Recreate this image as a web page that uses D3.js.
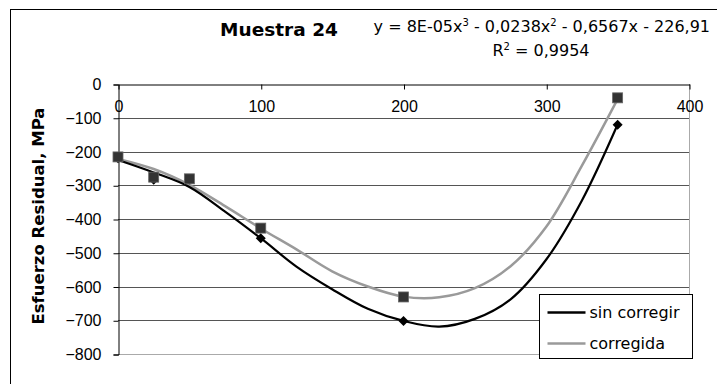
<!DOCTYPE html>
<html>
<head>
<meta charset="utf-8">
<script src="https://cdn.jsdelivr.net/npm/d3@7"></script>
<style>
    body { margin: 0; background: #ffffff; }
    svg { display: block; font-family: "DejaVu Sans", Arial, sans-serif; }
</style>
</head>
<body>
<div id="chart"></div>
<script>
// Measured points (x = position, y = residual stress in MPa)
var pointX = [0, 25, 50, 100, 200, 350];
var sinCorregirPts = [-220, -284, -283, -457, -702, -121];
var corregidaPts = [-216, -276, -281, -427, -631, -41];

// Trend curves
var curveX = [0, 25, 50, 75, 100, 125, 150, 175, 200, 225, 250, 275, 300, 325, 350];
var sinCorregirCurve = [-225, -262, -305, -378, -457, -541, -608, -666, -702, -719, -696, -638, -520, -345, -120];
var corregidaCurve = [-222, -252, -299, -362, -428, -490, -555, -600, -630, -632, -605, -540, -423, -242, -45];

var xTicks = [0, 100, 200, 300, 400];
var yTicks = [0, -100, -200, -300, -400, -500, -600, -700, -800];

var width = 717;
var height = 384;

var svg = d3.select('#chart')
    .append('svg')
    .attr('width', width)
    .attr('height', height);

// Outer frame
svg.append('rect')
    .attr('x', 10.5)
    .attr('y', 9.5)
    .attr('width', 720)
    .attr('height', 400)
    .attr('fill', 'none')
    .attr('stroke', '#000');

var x = d3.scaleLinear().domain([0, 400]).range([118, 689]);
var y = d3.scaleLinear().domain([-800, 0]).range([354, 84]);

// Gridlines
svg.append('g')
    .selectAll('line')
    .data(yTicks.filter(d => d !== 0 && d !== -800))
    .enter()
    .append('line')
    .attr('x1', x(0))
    .attr('x2', x(400))
    .attr('y1', d => Math.round(y(d)) + 0.5)
    .attr('y2', d => Math.round(y(d)) + 0.5)
    .attr('stroke', '#555');

// Right and bottom frame of plot
svg.append('line')
    .attr('x1', x(400) + 0.5).attr('x2', x(400) + 0.5)
    .attr('y1', y(0)).attr('y2', y(-800))
    .attr('stroke', '#aaa');
svg.append('line')
    .attr('x1', x(0)).attr('x2', x(400))
    .attr('y1', y(-800) + 0.5).attr('y2', y(-800) + 0.5)
    .attr('stroke', '#aaa');

// Y axis
var yAxis = d3.axisLeft(y).tickValues(yTicks).tickSize(5).tickPadding(12);
var yG = svg.append('g')
    .attr('transform', 'translate(' + (x(0) + 0.5) + ',0.5)')
    .call(yAxis);
yG.select('.domain').attr('stroke', '#000');
yG.selectAll('text')
    .style('font-size', '16px')
    .attr('fill', '#000');

// X axis along the top (value 0)
var xAxis = d3.axisBottom(x).tickValues(xTicks).tickSizeInner(5).tickSizeOuter(0).tickPadding(11);
var xG = svg.append('g')
    .attr('transform', 'translate(0.5,' + (y(0) + 0.5) + ')')
    .call(xAxis);
xG.select('.domain').attr('stroke', '#000');
xG.selectAll('text')
    .style('font-size', '16px')
    .attr('fill', '#000');

// Trend curves
var line = d3.line()
    .x(d => x(d[0]))
    .y(d => y(d[1]))
    .curve(d3.curveCatmullRom);

svg.append('path')
    .datum(curveX.map((d, i) => [d, corregidaCurve[i]]))
    .attr('d', line)
    .attr('fill', 'none')
    .attr('stroke', '#9a9a9a')
    .attr('stroke-width', 2.5);

svg.append('path')
    .datum(curveX.map((d, i) => [d, sinCorregirCurve[i]]))
    .attr('d', line)
    .attr('fill', 'none')
    .attr('stroke', '#000')
    .attr('stroke-width', 2.2);

// Markers: diamonds for sin corregir, squares for corregida
svg.append('g')
    .selectAll('path')
    .data(pointX.map((d, i) => [d, sinCorregirPts[i]]))
    .enter()
    .append('path')
    .attr('transform', d => 'translate(' + x(d[0]) + ',' + y(d[1]) + ') rotate(45)')
    .attr('d', d3.symbol().type(d3.symbolSquare).size(50))
    .attr('fill', '#000');

svg.append('g')
    .selectAll('rect')
    .data(pointX.map((d, i) => [d, corregidaPts[i]]))
    .enter()
    .append('rect')
    .attr('x', d => x(d[0]) - 5)
    .attr('y', d => y(d[1]) - 5)
    .attr('width', 10)
    .attr('height', 10)
    .attr('fill', '#333')
    .attr('stroke', '#666')
    .attr('stroke-width', 0.8);

// Title and equation
svg.append('text')
    .attr('x', 279)
    .attr('y', 36)
    .attr('text-anchor', 'middle')
    .style('font-size', '18.5px')
    .style('font-weight', 'bold')
    .text('Muestra 24');

var eq = svg.append('text')
    .attr('x', 710)
    .attr('y', 32)
    .attr('text-anchor', 'end')
    .style('font-size', '16px');
eq.append('tspan').text('y = 8E-05x');
eq.append('tspan').attr('dy', -6).style('font-size', '10px').text('3');
eq.append('tspan').attr('dy', 6).text(' - 0,0238x');
eq.append('tspan').attr('dy', -6).style('font-size', '10px').text('2');
eq.append('tspan').attr('dy', 6).text(' - 0,6567x - 226,91');

var r2 = svg.append('text')
    .attr('x', 541)
    .attr('y', 56)
    .attr('text-anchor', 'middle')
    .style('font-size', '16px');
r2.append('tspan').text('R');
r2.append('tspan').attr('dy', -6).style('font-size', '10px').text('2');
r2.append('tspan').attr('dy', 6).text(' = 0,9954');

// Y axis title
svg.append('text')
    .attr('transform', 'translate(44,216) rotate(-90)')
    .attr('text-anchor', 'middle')
    .style('font-size', '16.5px')
    .style('font-weight', 'bold')
    .text('Esfuerzo Residual, MPa');

// Legend
var legendItems = [
    { name: 'sin corregir', color: '#000', w: 2.5 },
    { name: 'corregida', color: '#9a9a9a', w: 2.5 }
];
var legend = svg.append('g').attr('transform', 'translate(539.5,294.5)');
legend.append('rect')
    .attr('width', 153)
    .attr('height', 64)
    .attr('fill', '#fff')
    .attr('stroke', '#000');
var items = legend.selectAll('.item')
    .data(legendItems)
    .enter()
    .append('g')
    .attr('class', 'item')
    .attr('transform', (d, i) => 'translate(0,' + (18 + i * 31) + ')');
items.append('line')
    .attr('x1', 8)
    .attr('x2', 46)
    .attr('stroke', d => d.color)
    .attr('stroke-width', d => d.w);
items.append('text')
    .attr('x', 50)
    .attr('y', 5)
    .style('font-size', '16px')
    .text(d => d.name);
</script>
</body>
</html>
